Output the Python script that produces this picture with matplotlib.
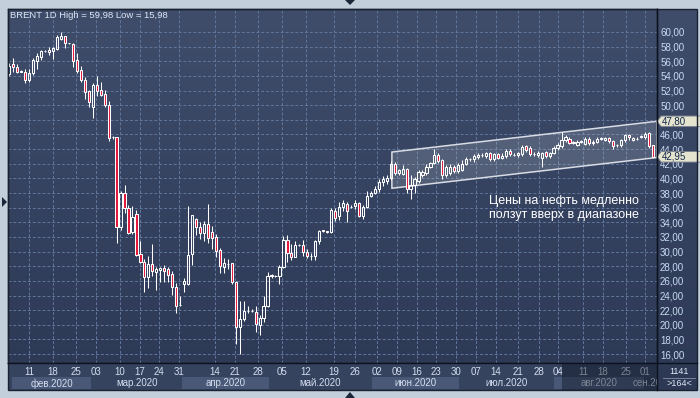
import numpy as np
import matplotlib.pyplot as plt
from matplotlib.patches import Rectangle, Polygon
from matplotlib.colors import LinearSegmentedColormap
import matplotlib.transforms as mtransforms

plt.rcParams['font.family'] = ['Liberation Sans', 'DejaVu Sans']

# daily candles, BRENT 1D
opens = [
    54.3, 55.6, 55.2, 54.6, 54.5, 53.4, 54.4, 56.1, 56.6, 57.4,
    57.3, 57.4, 57.7, 59.1, 59.45, 58.45, 58.4, 56.2, 54.8, 53.5,
    51.9, 49.8, 52.8, 52.1, 51.5, 50.0, 45.6, 45.6, 33.3, 38.0,
    36.0, 32.7, 35.2, 29.7, 28.6, 26.5, 28.3, 27.2, 27.5, 27.8,
    27.6, 26.95, 25.2, 22.65, 25.6, 25.6, 29.7, 34.5, 33.3, 32.5,
    33.8, 32.7, 32.05, 30.2, 27.9, 28.3, 28.4, 25.9, 19.65, 20.8,
    21.9, 21.9, 21.8, 20.0, 20.9, 22.5, 26.6, 26.6, 26.6, 27.85,
    31.65, 29.85, 29.3, 30.9, 30.9, 30.0, 29.35, 29.4, 31.4, 32.8,
    32.75, 32.7, 35.6, 34.8, 36.15, 36.45, 36.1, 36.2, 36.6, 34.8,
    36.15, 37.6, 38.05, 38.5, 39.5, 39.6, 40.0, 42.0, 40.7, 40.6,
    41.3, 38.5, 39.1, 39.6, 40.4, 40.7, 41.6, 42.05, 43.2, 42.5,
    40.45, 40.8, 41.6, 41.0, 41.2, 42.0, 42.6, 42.6, 42.9, 43.2,
    43.0, 43.4, 42.6, 43.3, 42.8, 43.0, 43.8, 43.2, 43.2, 43.3,
    44.4, 44.2, 43.3, 43.2, 42.8, 43.6, 43.0, 43.5, 44.1, 44.4,
    45.2, 45.4, 44.9, 44.6, 45.0, 44.7, 45.4, 44.8, 45.0, 45.4,
    45.3, 45.5, 45.1, 44.5, 44.5, 45.2, 45.9, 45.3, 45.4, 45.7,
    45.6, 46.2, 44.5]
highs = [
    55.7, 56.4, 55.6, 54.8, 55.0, 55.0, 56.4, 57.1, 57.6, 57.6,
    57.9, 57.9, 59.6, 59.98, 59.5, 58.5, 58.5, 57.1, 55.3, 53.9,
    52.1, 53.0, 54.0, 53.2, 52.1, 50.6, 45.8, 45.6, 38.3, 39.1,
    36.3, 36.2, 35.7, 31.4, 29.0, 29.4, 31.0, 27.9, 27.9, 28.2,
    27.9, 27.3, 25.75, 23.9, 26.35, 36.2, 35.0, 34.6, 34.1, 34.2,
    36.5, 33.5, 32.4, 30.45, 29.1, 29.0, 28.5, 26.0, 23.3, 23.2,
    22.6, 22.1, 22.5, 21.3, 24.0, 27.2, 27.0, 26.8, 28.2, 32.1,
    32.3, 31.1, 31.4, 31.1, 31.6, 30.4, 29.85, 31.6, 33.0, 33.0,
    32.8, 35.9, 35.9, 36.8, 37.0, 36.8, 36.4, 37.0, 36.8, 36.4,
    38.3, 38.3, 38.9, 39.9, 40.3, 40.4, 42.4, 42.3, 41.3, 41.8,
    41.4, 40.5, 40.2, 41.1, 41.2, 41.9, 42.3, 44.0, 43.5, 42.6,
    41.8, 41.9, 41.8, 42.1, 42.5, 42.9, 42.8, 43.3, 43.5, 43.4,
    43.6, 43.6, 43.5, 43.5, 43.4, 44.0, 44.0, 43.4, 43.6, 44.5,
    44.6, 44.4, 43.6, 43.7, 43.6, 43.8, 43.6, 44.4, 44.8, 46.3,
    45.9, 45.6, 45.1, 45.2, 45.2, 45.6, 45.6, 45.2, 45.6, 45.6,
    45.7, 45.6, 45.2, 44.7, 45.4, 46.1, 46.1, 45.7, 45.6, 45.9,
    46.3, 46.3, 44.6]
lows = [
    54.0, 54.5, 54.4, 54.5, 53.0, 53.2, 54.1, 55.0, 56.2, 57.2,
    56.9, 56.3, 57.5, 58.9, 57.8, 58.4, 55.2, 54.4, 53.1, 50.9,
    49.8, 48.3, 51.2, 51.2, 49.7, 45.1, 45.4, 31.2, 33.0, 35.3,
    32.4, 32.4, 29.4, 28.5, 24.5, 25.0, 26.7, 24.7, 25.9, 25.9,
    25.9, 24.1, 21.65, 22.5, 24.5, 25.4, 28.2, 32.3, 31.7, 31.5,
    31.2, 30.4, 29.2, 27.1, 27.1, 27.6, 25.6, 17.4, 15.98, 20.5,
    21.6, 21.7, 19.05, 18.6, 20.4, 22.4, 26.4, 26.5, 25.6, 27.8,
    28.6, 28.9, 29.2, 30.7, 29.4, 29.1, 28.85, 28.8, 31.0, 32.7,
    32.6, 32.6, 34.2, 34.3, 35.5, 34.0, 35.9, 35.8, 34.7, 34.4,
    35.9, 37.4, 37.9, 38.2, 39.0, 39.3, 39.8, 40.5, 40.5, 40.4,
    38.0, 37.2, 38.0, 39.4, 40.2, 40.5, 41.4, 41.9, 42.1, 39.9,
    40.2, 40.5, 40.7, 40.8, 41.0, 41.8, 42.4, 42.3, 42.7, 42.9,
    42.8, 42.4, 42.4, 42.6, 42.6, 42.8, 43.1, 43.0, 42.9, 43.1,
    43.6, 43.0, 43.0, 42.9, 41.5, 42.8, 42.8, 43.3, 43.9, 44.2,
    45.0, 44.7, 44.7, 44.4, 44.8, 44.5, 44.6, 44.6, 44.8, 45.2,
    45.1, 44.9, 44.0, 44.3, 44.3, 45.0, 45.3, 45.1, 45.2, 45.5,
    45.4, 44.2, 42.9]
closes = [
    55.4, 55.2, 54.6, 54.65, 53.4, 54.4, 56.2, 56.7, 57.4, 57.45,
    57.6, 57.8, 59.3, 59.5, 58.45, 58.45, 56.1, 54.7, 53.4, 51.8,
    50.5, 52.8, 51.9, 51.4, 50.0, 45.5, 45.6, 33.4, 38.0, 36.0,
    32.6, 34.7, 29.5, 28.6, 26.5, 28.3, 27.4, 27.6, 27.8, 27.4,
    26.8, 25.1, 22.6, 22.7, 26.0, 29.6, 35.0, 33.3, 32.5, 33.8,
    31.8, 31.8, 30.1, 28.05, 28.4, 28.35, 25.9, 19.65, 20.75, 21.9,
    21.95, 21.85, 20.1, 20.9, 22.5, 26.6, 26.75, 26.6, 27.85, 31.65,
    29.85, 29.3, 30.9, 30.95, 30.0, 29.4, 29.45, 31.45, 32.85, 32.9,
    32.7, 35.7, 34.55, 36.15, 36.6, 35.6, 36.15, 36.65, 34.9, 36.15,
    37.6, 38.05, 38.5, 39.55, 39.9, 40.1, 41.95, 40.75, 41.1, 41.3,
    38.5, 39.1, 39.9, 40.9, 40.9, 41.6, 42.1, 43.2, 42.4, 40.45,
    41.6, 41.6, 41.0, 41.8, 42.0, 42.6, 42.65, 43.0, 43.2, 43.15,
    43.4, 42.6, 43.3, 42.8, 43.1, 43.8, 43.3, 43.2, 43.4, 44.3,
    43.9, 43.3, 43.35, 43.5, 43.4, 43.0, 43.5, 44.2, 44.5, 45.2,
    45.6, 44.9, 44.95, 45.0, 45.0, 45.4, 44.8, 45.0, 45.4, 45.4,
    45.5, 45.1, 44.4, 44.55, 45.2, 45.9, 45.6, 45.5, 45.35, 45.7,
    46.1, 44.4, 42.95]

# date axis: day labels (bar positions) and months
tick_bars = [4.96, 11.0, 16.8, 21.8, 27.9, 32.9, 37.7, 42.7, 51.8, 56.8, 62.6, 68.6,
             74.7, 81.7, 87.0, 92.5, 97.6, 102.6, 107.4, 112.4, 117.5, 122.5, 128.0,
             133.3, 138.1, 144.4, 149.4, 155.2, 160.0]
tick_days = ['11', '18', '25', '03', '10', '17', '24', '31', '14', '21', '28', '05',
             '12', '19', '26', '02', '09', '16', '23', '30', '07', '14', '21',
             '28', '04', '11', '18', '25', '01']
months = ['фев.2020', 'мар.2020', 'апр.2020', 'май.2020', 'июн.2020',
          'июл.2020', 'авг.2020', 'сен.2020']
month_edges = [0.7, 20.6, 43.5, 65.4, 91.3, 113.2, 137.1, 159.7, 164.1]

price_ticks = list(range(16, 61, 2))

# price channel
chan_x = [96.3, 163.03]
chan_top = [43.6, 47.8]
chan_bot = [38.65, 42.85]
tags = [(47.80, '47,80'), (42.95, '42,95')]

W, H = 700, 398


def fbox(x0, y0, x1, y1):
    return [x0 / W, 1 - y1 / H, (x1 - x0) / W, (y1 - y0) / H]


fig = plt.figure(figsize=(7, 3.98), dpi=100, facecolor='#c4cfdc')

# background gradient
bg = fig.add_axes(fbox(8, 9, 697, 390))
grad = np.linspace(0, 1, 256).reshape(-1, 1)
cmap = LinearSegmentedColormap.from_list('bg', ['#3f4d6b', '#2c3854'])
bg.imshow(grad, aspect='auto', cmap=cmap, extent=[0, 1, 0, 1])
bg.axis('off')

ax = fig.add_axes(fbox(8, 9, 657, 363))
ax.set_facecolor('none')
ax.set_xlim(-0.33, 163.03)
ax.set_ylim(14.78, 63.14)

o = np.array(opens)
h = np.array(highs)
l = np.array(lows)
c = np.array(closes)
x = np.arange(len(o))
top = np.maximum(o, c)
bot = np.minimum(o, c)
up = c >= o

ax.vlines(x, top, h, color='white', lw=0.75, zorder=3)
ax.vlines(x, l, bot, color='white', lw=0.75, zorder=3)
body = np.maximum(top - bot, 0.05)
ax.bar(x[up], body[up], bottom=bot[up], width=0.55, facecolor='none',
       edgecolor='white', linewidth=0.75, zorder=4)
ax.bar(x[~up], body[~up], bottom=bot[~up], width=0.55, facecolor='#e3163a',
       edgecolor='white', linewidth=0.75, zorder=4)

# channel
chan = Polygon([(chan_x[0], chan_top[0]), (chan_x[1], chan_top[1]),
                (chan_x[1], chan_bot[1]), (chan_x[0], chan_bot[0])],
               closed=True, facecolor=(1, 1, 1, 0.14), edgecolor='#d8dce4',
               linewidth=1.1, zorder=2)
ax.add_patch(chan)

ax.text(120.7, 36.0, 'Цены на нефть медленно\nползут вверх в диапазоне',
        color='white', fontsize=9, ha='left', va='center', linespacing=1.2, zorder=6)

ax.yaxis.tick_right()
ax.set_yticks(price_ticks)
# 48,00 sits under the 47,80 tag
ax.set_yticklabels(['' if v == 48 else f'{v:.2f}'.replace('.', ',') for v in price_ticks])
ax.tick_params(axis='y', length=0, pad=2.2, labelsize=7, labelcolor='#c8daf2')
ax.set_xticks(tick_bars)
ax.set_xticklabels([])
ax.tick_params(axis='x', length=0)
ax.grid(True, color='#61769b', linestyle=(0, (3, 2)), linewidth=0.7)
ax.set_axisbelow(True)
for s in ax.spines.values():
    s.set_color('#111927')
    s.set_linewidth(1)

# price tags
trans = mtransforms.blended_transform_factory(ax.transAxes, ax.transData)
for price, label in tags:
    tag = Polygon([(1.0, price), (1.0065, price + 0.72), (1.07, price + 0.72),
                   (1.07, price - 0.72), (1.0065, price - 0.72)], closed=True,
                  transform=trans, clip_on=False, facecolor='#e4e4cf',
                  edgecolor='#7c8190', linewidth=0.7, zorder=10)
    ax.add_patch(tag)
    ax.text(1.0075, price, label, transform=trans, ha='left', va='center',
            fontsize=7, color='#13284a', zorder=11, clip_on=False)

# date strip
ds = fig.add_axes(fbox(8, 363, 657, 390))
ds.set_facecolor('#36435f')
ds.set_xlim(ax.get_xlim())
ds.set_ylim(27, 0)
ds.set_xticks([])
ds.set_yticks([])
for s in ds.spines.values():
    s.set_visible(False)
for i, name in enumerate(months):
    x0, x1 = month_edges[i], month_edges[i + 1]
    if i % 2 == 0:
        ds.add_patch(Rectangle((x0, 14), x1 - x0, 12, facecolor='#4a5877',
                               edgecolor='none', zorder=1))
    ds.text((x0 + x1) / 2, 20.3, name, ha='center', va='center', fontsize=7,
            color='#d4def0', zorder=2, clip_on=True)
for xb, d in zip(tick_bars, tick_days):
    ds.text(xb, 8.6, d, ha='center', va='center', fontsize=7, color='#d4def0', zorder=2)
ds.add_patch(Rectangle((139.1, 0), 30, 27, facecolor='#101826', alpha=0.45,
                       edgecolor='none', zorder=5))

# bottom-right counter
fig.text(679 / W, 1 - 371 / H, '1141', ha='center', va='center', fontsize=6.5, color='#e0e8f4')
fig.text(679 / W, 1 - 384 / H, '>164<', ha='center', va='center', fontsize=6.5, color='#e0e8f4')
fig.add_artist(plt.Line2D([663 / W, 695 / W], [1 - 377.5 / H] * 2, color='#8290a8', lw=0.6))

# separators and frame
fig.add_artist(plt.Line2D([657 / W] * 2, [1 - 9 / H, 1 - 390 / H], color='#0d131e', lw=1))
fig.add_artist(plt.Line2D([8 / W, 697 / W], [1 - 363 / H] * 2, color='#0d131e', lw=1))
fig.add_artist(Rectangle((8 / W, 1 - 390 / H), 689 / W, 381 / H, transform=fig.transFigure,
                         facecolor='none', edgecolor='#1a2232', lw=1))

# title
fig.text(10 / W, 1 - 15 / H, 'BRENT 1D High = 59,98 Low = 15,98', ha='left', va='center',
         fontsize=6.8, color='#dfe7f5')

# little arrows on the outer frame
for pts in [[(2, 197), (2, 207), (7, 202)], [(345, 0), (355, 0), (350, 5)],
            [(345, 398), (355, 398), (350, 392)]]:
    fig.add_artist(Polygon([(px / W, 1 - py / H) for px, py in pts], closed=True,
                           transform=fig.transFigure, facecolor='#1b2638', edgecolor='none'))

fig.savefig('out.png', dpi=100, facecolor=fig.get_facecolor())
